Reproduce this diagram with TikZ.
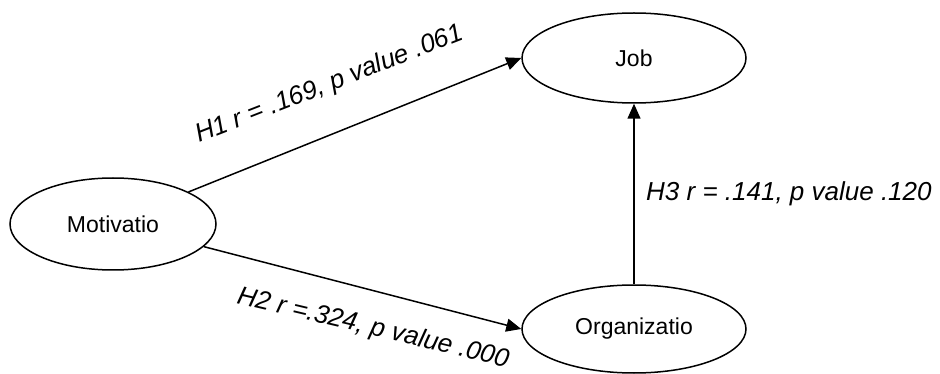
\documentclass[tikz,border=0pt]{standalone}
\usepackage{fontspec}
\setmainfont{Liberation Sans}
\usetikzlibrary{shapes.geometric,arrows.meta}
\tikzset{
  latent/.style={draw, ellipse, line width=1.5pt, inner sep=0pt,
    font=\fontsize{23}{27}\selectfont},
  path/.style={line width=1.5pt, -{Triangle[length=15pt,width=13pt]}},
  coef/.style={inner sep=0pt, anchor=base west, font=\fontsize{26}{30}\selectfont\itshape}
}
\begin{document}
\begin{tikzpicture}[x=1pt,y=-1pt]
\useasboundingbox (0,0) rectangle (940,374);
\node[latent, minimum width=224pt, minimum height=90pt] (job) at (634,58) {Job};
\node[latent, minimum width=206pt, minimum height=92pt] (mot) at (113,224) {Motivatio};
\node[latent, minimum width=224pt, minimum height=88pt] (org) at (634,329) {Organizatio};
\draw[path] (mot.23) -- (job.west);
\draw[path] (mot.-14) -- (org.west);
\draw[path] (org.north) -- (job.south);
\node[coef, rotate=21.4] (h1) at (199,143) {H1 r = .169, p value .061};
\node[coef, rotate=-13.4] (h2) at (236,303) {H2 r =.324, p value .000};
\node[coef] (h3) at (646,201) {H3 r = .141, p value .120};
\end{tikzpicture}
\end{document}
